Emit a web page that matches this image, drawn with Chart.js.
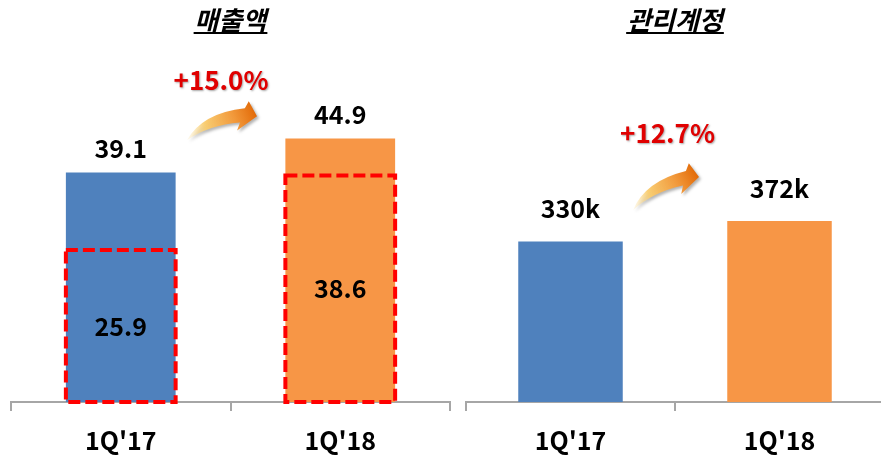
<!DOCTYPE html>
<html><head><meta charset="utf-8">
<script src="https://cdn.jsdelivr.net/npm/chart.js@4.4.1/dist/chart.umd.min.js"></script>
<style>
html,body{margin:0;padding:0;background:#fff;overflow:hidden;}
#wrap{position:relative;width:881px;height:458px;overflow:hidden;background:#fff;}
.box{position:absolute;top:0;height:474px;}
</style></head><body>
<div id="wrap">
  <div class="box" style="left:0;width:460px"><canvas id="c1" width="460" height="474"></canvas></div>
  <div class="box" style="left:460px;width:424px"><canvas id="c2" width="424" height="474"></canvas></div>
</div>
<script>
// ---- data ----
const categories = ["1Q'17", "1Q'18"];
const salesTotal = [39.1, 44.9];
const salesCompare = [25.9, 38.6];
const accountsK = [330, 372];
const salesTitle = '매출액';
const accountsTitle = '관리계정';
const salesGrowth = '+15.0%';
const accountsGrowth = '+12.7%';

const barColors = ['#4F81BD', '#F79646'];
const FONT = "'Noto Sans CJK KR', 'Noto Sans', sans-serif";
const AXIS = '#A6A6A6';

function drawArrow(ctx, T, P) {
  const d0x = 69, d0y = -23;
  const dx = P.x - T.x, dy = P.y - T.y;
  const den = d0x * d0x + d0y * d0y;
  const rx = (dx * d0x + dy * d0y) / den;
  const ry = (dy * d0x - dx * d0y) / den;
  const tf = (px, py) => [T.x + px * rx - py * ry, T.y + px * ry + py * rx];
  ctx.save();
  const g = ctx.createLinearGradient(T.x, T.y, P.x, P.y);
  g.addColorStop(0, 'rgba(253,236,190,0.25)');
  g.addColorStop(0.3, 'rgba(250,205,110,0.95)');
  g.addColorStop(0.7, '#F29A3C');
  g.addColorStop(1, '#E36C0A');
  ctx.fillStyle = g;
  ctx.shadowColor = 'rgba(0,0,0,0.3)';
  ctx.shadowBlur = 3;
  ctx.shadowOffsetX = 2;
  ctx.shadowOffsetY = 2;
  ctx.beginPath();
  ctx.moveTo(...tf(0, 0));
  ctx.quadraticCurveTo(...tf(16, -27), ...tf(58, -31));
  ctx.lineTo(...tf(62, -38));
  ctx.lineTo(...tf(70, -23));
  ctx.lineTo(...tf(50, -9));
  ctx.lineTo(...tf(53, -17));
  ctx.quadraticCurveTo(...tf(22, -15), ...tf(0, 0));
  ctx.closePath();
  ctx.fill();
  ctx.restore();
}

const decor = {
  id: 'decor',
  afterDatasetsDraw(chart, args, o) {
    const ctx = chart.ctx;
    const area = chart.chartArea;
    const xs = chart.scales.x;
    const mid = (xs.getPixelForValue(0) + xs.getPixelForValue(1)) / 2;
    // dashed comparison boxes
    if (o.dashedIndex >= 0) {
      const meta = chart.getDatasetMeta(o.dashedIndex);
      ctx.save();
      ctx.strokeStyle = '#FF0000';
      ctx.lineWidth = 4;
      ctx.setLineDash([12, 5]);
      meta.data.forEach(el => {
        ctx.strokeRect(el.x - el.width / 2, el.y, el.width, el.base - el.y);
      });
      ctx.restore();
      ctx.save();
      ctx.font = 'bold 25px ' + FONT;
      ctx.fillStyle = '#000';
      ctx.textAlign = 'center';
      ctx.textBaseline = 'middle';
      const data = chart.data.datasets[o.dashedIndex].data;
      meta.data.forEach((el, i) => {
        ctx.fillText(data[i].toFixed(1), el.x, (el.y + el.base) / 2);
      });
      ctx.restore();
    }
    // value labels above bars
    const meta0 = chart.getDatasetMeta(0);
    const data0 = chart.data.datasets[0].data;
    ctx.save();
    ctx.font = 'bold 25px ' + FONT;
    ctx.fillStyle = '#000';
    ctx.textAlign = 'center';
    ctx.textBaseline = 'middle';
    meta0.data.forEach((el, i) => {
      const v = data0[i];
      const txt = o.decimals > 0 ? v.toFixed(o.decimals) : (v + o.suffix);
      ctx.fillText(txt, el.x, el.y - o.labelGap);
    });
    ctx.restore();
    // growth arrow
    drawArrow(ctx,
      {x: mid + o.arrow[0], y: area.top + o.arrow[1]},
      {x: mid + o.arrow[2], y: area.top + o.arrow[3]});
    // growth text
    ctx.save();
    ctx.font = 'bold 26px ' + FONT;
    ctx.fillStyle = '#E00000';
    ctx.textAlign = 'center';
    ctx.textBaseline = 'middle';
    ctx.shadowColor = 'rgba(0,0,0,0.35)';
    ctx.shadowBlur = 2;
    ctx.shadowOffsetX = 1;
    ctx.shadowOffsetY = 1;
    ctx.fillText(o.growth, mid + o.growthPos[0], area.top + o.growthPos[1]);
    ctx.restore();
    // title underline
    const tb = chart.titleBlock;
    if (tb) {
      ctx.save();
      ctx.font = 'italic bold 26px ' + FONT;
      const w = ctx.measureText(chart.options.plugins.title.text).width;
      const cx = (tb.left + tb.right) / 2;
      ctx.strokeStyle = '#000';
      ctx.lineWidth = 2;
      ctx.beginPath();
      ctx.moveTo(cx - w / 2 - 1, tb.top + 33);
      ctx.lineTo(cx + w / 2 + 1, tb.top + 33);
      ctx.stroke();
      ctx.restore();
    }
  }
};

function xScale() {
  return {
    offset: true,
    grid: {offset: true, drawOnChartArea: false, drawTicks: true, tickLength: 9, color: AXIS, lineWidth: 2},
    border: {display: true, color: AXIS, width: 2},
    ticks: {color: '#000', padding: 14, font: {family: FONT, size: 25, weight: 'bold'}}
  };
}
function titleOpt(text) {
  return {display: true, text: text, color: '#000',
    font: {family: FONT, size: 26, weight: 'bold', style: 'italic', lineHeight: 1.2},
    padding: {top: 5, bottom: 5}};
}

new Chart(document.getElementById('c1'), {
  type: 'bar',
  data: {
    labels: categories,
    datasets: [
      {label: '매출액', data: salesTotal, backgroundColor: barColors, grouped: false, order: 2},
      {label: '비교', data: salesCompare, backgroundColor: 'rgba(0,0,0,0)', borderWidth: 0, grouped: false, order: 1}
    ]
  },
  options: {
    responsive: false, animation: false,
    layout: {padding: {left: 11, right: 10, top: 0, bottom: 5}},
    datasets: {bar: {barPercentage: 0.5, categoryPercentage: 1.0}},
    scales: {x: xScale(), y: {display: false, min: 0, max: 61.5}},
    plugins: {
      legend: {display: false}, tooltip: {enabled: false},
      title: titleOpt(salesTitle),
      decor: {dashedIndex: 1, decimals: 1, suffix: '', labelGap: 24,
        arrow: [-43.5, 99, 25.5, 75], growth: salesGrowth, growthPos: [-9.5, 39]}
    }
  },
  plugins: [decor]
});

new Chart(document.getElementById('c2'), {
  type: 'bar',
  data: {
    labels: categories,
    datasets: [
      {label: '관리계정', data: accountsK, backgroundColor: barColors, grouped: false}
    ]
  },
  options: {
    responsive: false, animation: false,
    layout: {padding: {left: 6, right: 0, top: 0, bottom: 5}},
    datasets: {bar: {barPercentage: 0.5, categoryPercentage: 1.0}},
    scales: {x: xScale(), y: {display: false, min: 0, max: 742}},
    plugins: {
      legend: {display: false}, tooltip: {enabled: false},
      title: titleOpt(accountsTitle),
      decor: {dashedIndex: -1, decimals: 0, suffix: 'k', labelGap: 33,
        arrow: [-42, 169, 23, 136], growth: accountsGrowth, growthPos: [-7.5, 92]}
    }
  },
  plugins: [decor]
});
</script>
</body></html>
